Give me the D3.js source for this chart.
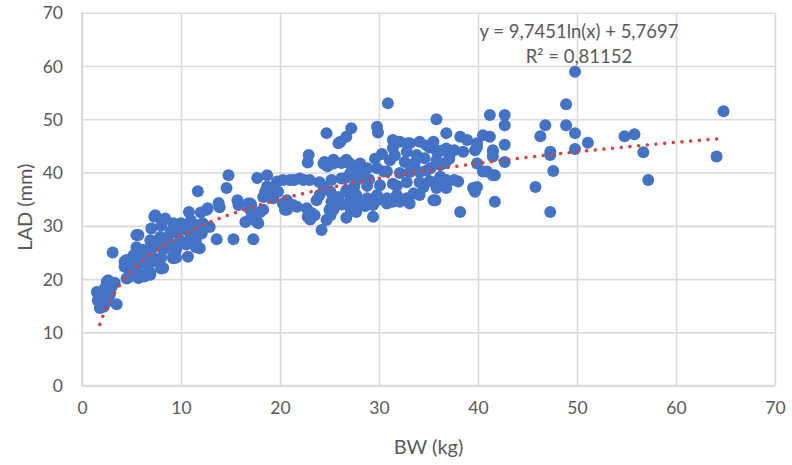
<!DOCTYPE html>
<html>
<head>
<meta charset="utf-8">
<script src="https://cdn.jsdelivr.net/npm/d3@7"></script>
<style>
  html, body { margin: 0; padding: 0; background: #ffffff; }
  svg { display: block; }
  text { font-family: Lato, "Open Sans", sans-serif; }
</style>
</head>
<body>
<svg id="chart" width="792" height="465"></svg>
<script>
// ---- data (BW kg, LAD mm) ----
const scatter = [
  [1.5,17.6],[1.6,16.0],[1.75,15.8],[1.8,14.6],[2.0,17.5],[2.1,16.7],[2.3,18.3],[2.4,15.5],
  [2.65,19.8],[2.8,17.0],[3.0,18.5],[3.1,25.0],[3.3,19.3],[3.5,15.3],[2.2,14.8],[2.5,19.5],
  [4.5,20.1],[4.3,23.3],[5.7,20.2],[6.9,20.8],[5.5,28.3],[8.2,22.1],[9.2,23.9],[10.7,24.2],
  [11.9,25.8],[13.6,27.5],[15.3,27.5],[17.3,27.5],
  [7.3,31.7],[8.2,31.1],[9.2,30.5],[10.8,32.6],[11.7,36.5],[12.6,33.0],[13.8,34.3],[14.8,39.5],
  [14.6,37.1],[15.7,34.8],[16.8,34.2],[17.3,32.4],[17.8,30.5],[18.3,33.0],[18.7,39.5],[18.7,37.4],
  [19.7,38.3],[19.8,36.4],[20.7,34.8],[20.7,33.0],[21.7,33.6],[21.4,38.6],[22.4,38.6],[22.9,43.3],
  [22.8,41.9],[23.2,32.4],[23.05,31.2],[24.2,29.2],[23.7,34.8],[24.4,37.4],[24.7,47.4],[25.0,33.0],
  [25.4,41.7],[25.9,35.4],[26.1,45.8],[26.7,46.7],[27.2,48.3],[26.7,42.4],[27.7,40.0],[27.7,35.3],
  [27.6,33.2],[28.4,40.6],[28.8,37.5],[29.4,31.7],[29.8,48.6],[29.9,47.5],[30.3,43.5],[30.5,40.2],
  [30.9,53.0],[31.4,46.1],[31.6,43.2],[31.8,37.5],[32.0,35.0],
  [35.8,50.0],[36.8,47.4],[38.2,46.7],[38.9,46.1],[39.9,44.8],[40.5,47.0],[41.2,46.7],[41.2,50.8],
  [42.7,50.8],[42.7,48.9],[42.7,45.2],[42.7,42.0],[41.5,43.9],[41.5,43.0],[41.7,39.5],[40.9,40.2],
  [39.9,41.7],[39.9,37.3],[39.7,36.4],[41.7,34.5],[38.2,32.6],[35.7,34.8],[38.0,38.3],[37.2,43.6],
  [36.3,44.1],[35.1,44.7],[34.1,45.8],[33.1,45.5],[32.1,45.8],
  [46.8,48.9],[46.3,46.8],[47.3,43.9],[47.3,43.3],[47.6,40.3],[45.8,37.3],[47.3,32.6],[48.9,52.8],
  [48.9,48.9],[49.8,58.9],[49.8,47.4],[49.8,44.4],[51.1,45.6],[54.8,46.8],[55.8,47.2],[56.7,43.8],
  [57.2,38.6],[64.1,43.0],[64.8,51.5],
  [7.4,32.0],[8.4,31.4],[12.7,33.3],[5.7,28.3],[6.9,27.3],[7.9,27.9],[8.6,27.3],[9.6,28.8],
  [10.6,29.2],[11.6,29.8],[12.2,30.5],[9.2,24.2],[8.2,25.5],[7.2,26.0],[6.2,25.5],[5.2,24.5],
  [4.5,23.6],[4.3,22.3],[5.5,22.3],[6.6,22.6],[7.6,23.2],[5.9,20.8],[6.9,21.3],[4.85,21.3],
  [9.9,27.3],[8.9,28.5],
  [5.0,23.0],[6.0,24.0],[6.5,25.0],[7.0,24.5],[7.5,26.5],[8.0,24.0],[8.5,26.0],[9.0,26.5],
  [9.5,25.5],[10.0,27.0],[10.5,26.5],[11.0,28.0],[11.5,27.0],[12.0,28.5],[8.0,22.0],[9.5,24.0],
  [5.5,26.0],[4.7,20.3],[6.3,20.5],[7.0,29.5],[8.0,30.0],[9.0,29.0],[10.0,30.5],[11.0,31.0],
  [12.0,32.5],[11.5,26.0],
  [13.9,33.5],[15.8,33.9],[17.0,34.2],[17.0,33.0],[18.0,32.6],[18.3,35.4],[16.5,30.7],[17.4,31.1],
  [11.7,30.1],[9.9,29.4],[11.4,28.3],[12.1,28.6],[12.9,29.8],
  [25.9,45.5],[24.5,42.0],[24.8,41.2],[26.2,41.8],[27.0,41.8],[17.7,39.0],[21.0,38.6],[22.0,38.9],
  [23.0,38.6],[24.0,38.2],[25.2,38.6],[26.2,38.9],[27.1,39.9],[27.5,37.4],[18.5,36.4],[19.3,35.2],
  [20.3,34.2],[20.5,33.0],[21.3,33.9],[22.7,33.3],[22.8,31.7],[23.5,32.0],[24.7,31.1],[25.2,34.5],
  [25.4,33.0],[26.2,34.0],[27.1,35.0],[26.7,31.5],[25.1,36.4],[24.0,35.8],[17.1,33.9],[17.6,31.1],
  [17.1,31.6],[19.0,37.0],
  [32.9,45.5],[34.8,45.1],[35.9,43.8],[31.4,44.6],[32.8,43.9],[33.8,43.3],[31.1,42.3],[32.6,42.0],
  [33.6,41.8],[34.6,42.7],[35.2,40.8],[36.2,41.4],[36.7,41.8],[27.7,41.2],[28.8,40.8],[29.8,40.8],
  [30.8,40.2],[32.1,39.9],[33.1,40.1],[34.1,40.1],[26.6,39.0],[27.7,38.5],[29.0,38.7],[30.1,37.6],
  [31.4,37.9],[32.8,38.2],[34.1,38.2],[35.1,38.4],[36.1,38.7],[26.7,36.4],[27.7,35.8],[28.8,35.2],
  [29.8,35.8],[30.8,35.2],[31.8,35.8],[32.8,35.2],[34.1,35.8],[35.5,34.8],[27.9,34.2],[29.4,33.9],
  [31.4,34.5],[33.1,34.2],[27.1,33.3],
  [39.9,45.5],[35.8,44.2],[36.8,44.5],[37.6,44.2],[38.5,43.9],[39.7,44.2],[41.5,44.2],[35.8,42.3],
  [37.1,42.6],[34.8,40.4],[36.2,39.2],[36.8,38.6],[37.6,38.6],[40.5,40.2],[41.5,39.5],[35.8,37.1],
  [36.8,37.1],[39.5,37.1],[35.5,45.8],
  [25.1,32.0],[27.7,32.6],[28.6,33.7],[29.8,34.8],[24.4,41.7],[25.4,42.4],[28.1,41.7],[29.6,42.6],
  [28.4,39.2],[26.7,36.7],[25.4,35.5],[20.3,38.6],
  [30.8,34.2],[32.1,34.5],[33.5,36.1],[34.5,37.3]
];

// Trendline (logarithmic) as reported on the chart
const trendCoef = { a: 9.7451, b: 5.7697 };
const trendRange = [1.8, 64.8];
const equationLines = ["y = 9,7451ln(x) + 5,7697", "R² = 0,81152"];

const xTicks = [0, 10, 20, 30, 40, 50, 60, 70];
const yTicks = [0, 10, 20, 30, 40, 50, 60, 70];
const xTitle = "BW (kg)";
const yTitle = "LAD (mm)";

// ---- layout ----
const plot = { left: 82, right: 775, top: 12.7, bottom: 385.7 };
const svg = d3.select("#chart");

const x = d3.scaleLinear().domain([0, 70]).range([plot.left, plot.right]);
const y = d3.scaleLinear().domain([0, 70]).range([plot.bottom, plot.top]);

const gridColor = "#d9d9d9";
const textColor = "#595959";

// gridlines via axes
const gx = svg.append("g")
  .attr("transform", `translate(0,${plot.bottom})`)
  .call(d3.axisBottom(x).tickValues(xTicks).tickSize(-(plot.bottom - plot.top)).tickPadding(20).tickFormat(d3.format("d")));
const gy = svg.append("g")
  .attr("transform", `translate(${plot.left},0)`)
  .call(d3.axisLeft(y).tickValues(yTicks).tickSize(-(plot.right - plot.left)).tickPadding(19).tickFormat(d3.format("d")));

[gx, gy].forEach(g => {
  g.select(".domain").remove();
  g.selectAll(".tick line").attr("stroke", gridColor).attr("stroke-width", 1.6);
  g.selectAll(".tick text")
    .attr("fill", textColor)
    .style("font-size", "17.5px");
});
gx.selectAll(".tick text").attr("dy", "0.5em");
gy.selectAll(".tick text").attr("dy", "0.35em");

// axis lines (left and bottom)
svg.append("line")
  .attr("x1", plot.left).attr("x2", plot.left)
  .attr("y1", plot.top).attr("y2", plot.bottom)
  .attr("stroke", gridColor).attr("stroke-width", 2);
svg.append("line")
  .attr("x1", plot.left).attr("x2", plot.right)
  .attr("y1", plot.bottom).attr("y2", plot.bottom)
  .attr("stroke", gridColor).attr("stroke-width", 2);

// scatter points
svg.append("g")
  .selectAll("circle")
  .data(scatter)
  .join("circle")
  .attr("cx", d => x(d[0]))
  .attr("cy", d => y(d[1]))
  .attr("r", 6)
  .attr("fill", "#4472c4");

// trendline
const trendX = d3.range(trendRange[0], trendRange[1], 0.05).concat([trendRange[1]]);
const line = d3.line()
  .x(d => x(d))
  .y(d => y(trendCoef.a * Math.log(d) + trendCoef.b))
  .curve(d3.curveLinear);
svg.append("path")
  .datum(trendX)
  .attr("d", line)
  .attr("fill", "none")
  .attr("stroke", "#d9403a")
  .attr("stroke-width", 3.5)
  .attr("stroke-linecap", "round")
  .attr("stroke-dasharray", "0.01 8.7");

// equation label
const eq = svg.append("text")
  .attr("x", 579)
  .attr("y", 38)
  .attr("text-anchor", "middle")
  .attr("fill", textColor)
  .style("font-size", "18.5px");
eq.append("tspan").attr("x", 579).attr("dy", 0).text(equationLines[0]);
eq.append("tspan").attr("x", 579).attr("dy", 25).text(equationLines[1]);

// axis titles
svg.append("text")
  .attr("x", (plot.left + plot.right) / 2)
  .attr("y", 454)
  .attr("text-anchor", "middle")
  .attr("fill", textColor)
  .style("font-size", "20px")
  .text(xTitle);

svg.append("text")
  .attr("transform", `translate(32,${(plot.top + plot.bottom) / 2 + 8}) rotate(-90)`)
  .attr("text-anchor", "middle")
  .attr("fill", textColor)
  .style("font-size", "20px")
  .text(yTitle);
</script>
</body>
</html>
